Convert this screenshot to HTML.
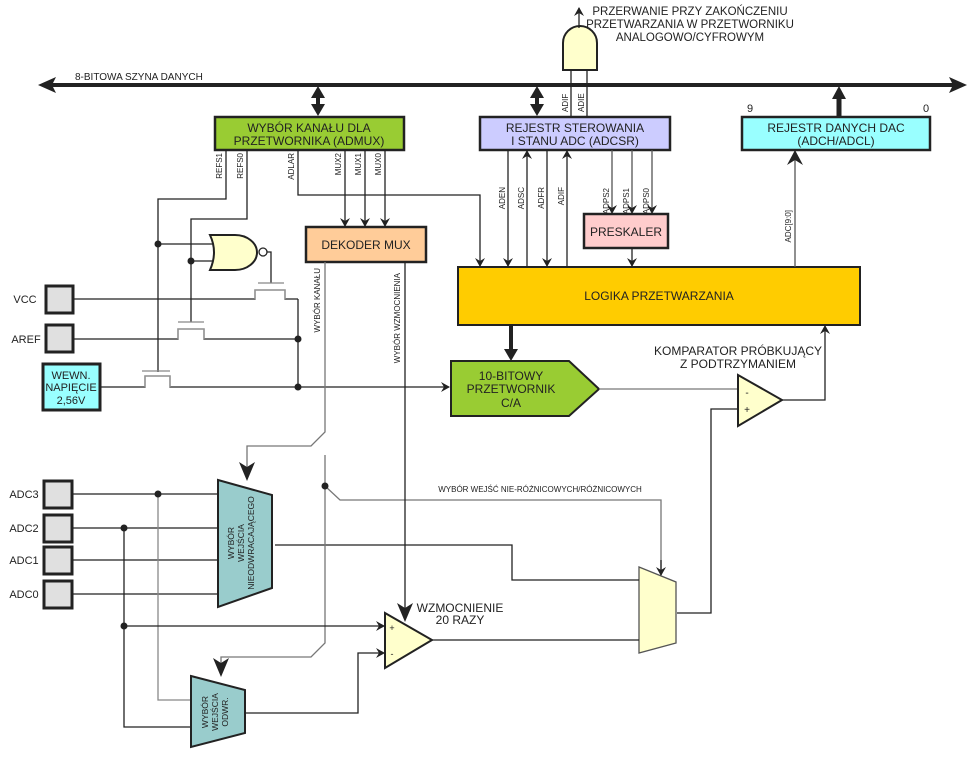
<!DOCTYPE html>
<html><head><meta charset="utf-8"><style>
html,body{margin:0;padding:0;background:#fff}
svg{display:block;font-family:"Liberation Sans",sans-serif}
text{fill:#222}
</style></head><body>
<svg width="971" height="765" viewBox="0 0 971 765" xmlns="http://www.w3.org/2000/svg">
<defs>
<marker id="a" markerWidth="10" markerHeight="10" refX="8" refY="5" orient="auto" markerUnits="userSpaceOnUse"><path d="M0,0 L9,5 L0,10 L3,5z" fill="#222"/></marker>
<marker id="b" markerWidth="16" markerHeight="16" refX="14" refY="8" orient="auto" markerUnits="userSpaceOnUse"><path d="M0,0 L15,8 L0,16 L5,8z" fill="#222"/></marker>
</defs>
<g stroke="#222" fill="none" stroke-width="1.3">
<line x1="50" y1="85" x2="955" y2="85" stroke-width="4"/>
<path d="M38,85 L56,77 L52,85 L56,93z M967,85 L949,77 L953,85 L949,93z" fill="#222" stroke="none"/>
<line x1="318" y1="92" x2="318" y2="110" stroke-width="4"/>
<path d="M318,86 L311,98 L325,98z M318,116 L311,104 L325,104z" fill="#222" stroke="none"/>
<line x1="537" y1="92" x2="537" y2="110" stroke-width="4"/>
<path d="M537,86 L530,98 L544,98z M537,116 L530,104 L544,104z" fill="#222" stroke="none"/>
<line x1="839" y1="117" x2="839" y2="96" stroke-width="5"/>
<path d="M839,86 L832,99 L846,99z" fill="#222" stroke="none"/>
<path d="M563,70 L563,43 A17,17 0 0 1 597,43 L597,70z" fill="#ffffcc" stroke-width="2"/>
<line x1="579" y1="28" x2="579" y2="8" marker-end="url(#a)"/>
<line x1="571" y1="70" x2="571" y2="117"/>
<line x1="587" y1="70" x2="587" y2="117"/>
<rect x="215" y="117" width="189" height="33" fill="#99cc33" stroke-width="2.5"/>
<rect x="480" y="117" width="190" height="33" fill="#ccccff" stroke-width="2.5"/>
<rect x="742" y="117" width="188" height="33" fill="#99ffff" stroke-width="2.5"/>
<rect x="306" y="227" width="120" height="35" fill="#ffcc99" stroke-width="2.5"/>
<rect x="584" y="214" width="84" height="34" fill="#ffcccc" stroke-width="2.5"/>
<rect x="458" y="267" width="402" height="58" fill="#ffcc00" stroke-width="2"/>
<path d="M451,361 L569,361 L599,389 L569,416 L451,416z" fill="#99cc33" stroke-width="2"/>
<path d="M226,150 V199 H158 V372"/>
<path d="M247,150 V219 H191 V322"/>
<path d="M298,150 V195 H480 V266" marker-end="url(#a)"/>
<line x1="345" y1="150" x2="345" y2="226" marker-end="url(#a)"/>
<line x1="365" y1="150" x2="365" y2="226" marker-end="url(#a)"/>
<line x1="385" y1="150" x2="385" y2="226" marker-end="url(#a)"/>
<path d="M158,244 H215 M191,261 H215"/>
<path d="M210,235 L235,235 A22,17.5 0 0 1 235,270 L210,270 Q218,252 210,235z" fill="#ffffcc" stroke-width="2"/>
<circle cx="263" cy="252" r="4" fill="#fff"/>
<path d="M267,252 H271 V283"/>
<path d="M258,283 H284 M178,322 H204 M142,371 H170" stroke="#888"/>
<path d="M73,299 H255 V290 H285 V299 H298" />
<path d="M255,299 V290 H285 V299" stroke="#999"/>
<path d="M73,339 H178 V329 H204 V339 H298"/>
<path d="M178,339 V329 H204 V339" stroke="#999"/>
<path d="M100,387 H145 V376 H170 V387 H449" marker-end="url(#a)"/>
<path d="M145,387 V376 H170 V387" stroke="#999"/>
<line x1="298" y1="299" x2="298" y2="387"/>
<rect x="46" y="286" width="27" height="27" fill="#e0e0e0" stroke-width="3"/>
<rect x="46" y="325" width="27" height="27" fill="#e0e0e0" stroke-width="3"/>
<rect x="43" y="364" width="57" height="46" fill="#99ffff" stroke-width="3"/>
<line x1="508" y1="150" x2="508" y2="266" marker-end="url(#a)"/>
<line x1="527" y1="267" x2="527" y2="151" marker-end="url(#a)"/>
<line x1="547" y1="150" x2="547" y2="266" marker-end="url(#a)"/>
<line x1="567" y1="267" x2="567" y2="151" marker-end="url(#a)"/>
<g stroke="#555"><line x1="612" y1="150" x2="612" y2="213" marker-end="url(#a)"/>
<line x1="632" y1="150" x2="632" y2="213" marker-end="url(#a)"/>
<line x1="652" y1="150" x2="652" y2="213" marker-end="url(#a)"/></g>
<line x1="632" y1="248" x2="632" y2="266" marker-end="url(#a)"/>
<line x1="795" y1="267" x2="795" y2="151" marker-end="url(#b)" stroke="#555"/>
<line x1="511" y1="325" x2="511" y2="352" stroke-width="4"/>
<path d="M511,361 L504,349 L518,349z" fill="#222" stroke="none"/>
<path d="M599,389 H738" stroke="#777"/>
<path d="M738,375 L782,400 L738,426z" fill="#ffffcc" stroke-width="2"/>
<path d="M782,400 H825 V326" marker-end="url(#a)"/>
<path d="M738,409 H711 V613 H677"/>
<path d="M639,567 L676,582 L676,643 L639,653z" fill="#ffffcc" stroke="#555"/>
<path d="M275,545 H512 V580 H639"/>
<path d="M432,640 H639"/>
<path d="M325,486 L340,500 H661 V574" stroke="#777"/>
<line x1="661" y1="560" x2="661" y2="575" marker-end="url(#a)"/>
<path d="M325,262 V432 L311,446 H247 V478" stroke="#777"/>
<path d="M325,455 V643 L311,657 H221 V674" stroke="#777"/>
<path d="M247,481 L239,462 L247,467 L255,462z M221,677 L213,658 L221,663 L229,658z" fill="#222" stroke="none"/>
<path d="M405,262 V612"/>
<path d="M405,622 L397,603 L405,608 L413,603z" fill="#222" stroke="none"/>
<path d="M72,494 H218 M72,528 H218 M72,560 H218 M72,594 H218"/>
<path d="M158,494 V700 H191" stroke="#888"/>
<path d="M124,528 V727 H191"/>
<path d="M124,626 H384" marker-end="url(#a)"/>
<path d="M245,713 H358 V653 H384" marker-end="url(#a)"/>
<rect x="44" y="481" width="28" height="27" fill="#e0e0e0" stroke-width="3"/>
<rect x="44" y="515" width="28" height="27" fill="#e0e0e0" stroke-width="3"/>
<rect x="44" y="547" width="28" height="27" fill="#e0e0e0" stroke-width="3"/>
<rect x="44" y="581" width="28" height="27" fill="#e0e0e0" stroke-width="3"/>
<path d="M218,480 L272,495 L272,588 L218,607z" fill="#99cccc" stroke-width="2"/>
<path d="M191,676 L245,690 L245,733 L191,747z" fill="#99cccc" stroke-width="2"/>
<path d="M385,613 L432,640 L385,668z" fill="#ffffcc" stroke-width="2"/>
</g>
<g fill="#222">
<circle cx="158" cy="244" r="3.5"/><circle cx="191" cy="261" r="3.5"/>
<circle cx="298" cy="339" r="3.5"/><circle cx="298" cy="387" r="3.5"/>
<circle cx="325" cy="486" r="3.5"/>
<circle cx="158" cy="494" r="3.5"/><circle cx="124" cy="528" r="3.5"/><circle cx="124" cy="626" r="3.5"/>
</g>
<g font-size="11" text-anchor="middle">
<text x="75" y="80" text-anchor="start" font-size="10">8-BITOWA SZYNA DANYCH</text>
<text x="690" y="15" font-size="11.5">PRZERWANIE PRZY ZAKOŃCZENIU</text>
<text x="690" y="28" font-size="11.5">PRZETWARZANIA W PRZETWORNIKU</text>
<text x="690" y="41" font-size="11.5">ANALOGOWO/CYFROWYM</text>
<text x="309" y="132" font-size="12">WYBÓR KANAŁU DLA</text>
<text x="309" y="145" font-size="12">PRZETWORNIKA (ADMUX)</text>
<text x="575" y="132" font-size="12">REJESTR STEROWANIA</text>
<text x="575" y="145" font-size="12">I STANU ADC (ADCSR)</text>
<text x="836" y="132" font-size="12">REJESTR DANYCH DAC</text>
<text x="836" y="145" font-size="12">(ADCH/ADCL)</text>
<text x="750" y="112" font-size="11">9</text><text x="926" y="112" font-size="11">0</text>
<text x="366" y="249" font-size="12">DEKODER MUX</text>
<text x="626" y="236" font-size="12">PRESKALER</text>
<text x="659" y="300" font-size="12">LOGIKA PRZETWARZANIA</text>
<text x="511" y="380" font-size="12">10-BITOWY</text>
<text x="511" y="393" font-size="12">PRZETWORNIK</text>
<text x="511" y="407" font-size="12">C/A</text>
<text x="738" y="355" font-size="12">KOMPARATOR PRÓBKUJĄCY</text>
<text x="738" y="368" font-size="12">Z PODTRZYMANIEM</text>
<text x="747" y="396" font-size="10">-</text><text x="747" y="413" font-size="10">+</text>
<text x="71" y="379" font-size="11">WEWN.</text>
<text x="71" y="391" font-size="11">NAPIĘCIE</text>
<text x="71" y="404" font-size="11">2,56V</text>
<text x="25" y="303" font-size="11">VCC</text>
<text x="26" y="343" font-size="11">AREF</text>
<text x="24" y="498" font-size="11">ADC3</text>
<text x="24" y="532" font-size="11">ADC2</text>
<text x="24" y="564" font-size="11">ADC1</text>
<text x="24" y="598" font-size="11">ADC0</text>
<text x="460" y="612" font-size="12">WZMOCNIENIE</text>
<text x="460" y="624" font-size="12">20 RAZY</text>
<text x="392" y="631" font-size="9">+</text><text x="392" y="657" font-size="9">-</text>
<text x="540" y="492" font-size="8">WYBÓR WEJŚĆ NIE-RÓŻNICOWYCH/RÓŻNICOWYCH</text>
</g>
<g font-size="8" text-anchor="end">
<text transform="translate(222,153) rotate(-90)">REFS1</text>
<text transform="translate(243,153) rotate(-90)">REFS0</text>
<text transform="translate(294,153) rotate(-90)">ADLAR</text>
<text transform="translate(341,153) rotate(-90)">MUX2</text>
<text transform="translate(361,153) rotate(-90)">MUX1</text>
<text transform="translate(381,153) rotate(-90)">MUX0</text>
<text transform="translate(568,112) rotate(-90)" text-anchor="start">ADIF</text>
<text transform="translate(584,112) rotate(-90)" text-anchor="start">ADIE</text>
<text transform="translate(505,187) rotate(-90)">ADEN</text>
<text transform="translate(524,187) rotate(-90)">ADSC</text>
<text transform="translate(544,187) rotate(-90)">ADFR</text>
<text transform="translate(564,187) rotate(-90)">ADIF</text>
<text transform="translate(609,188) rotate(-90)">ADPS2</text>
<text transform="translate(629,188) rotate(-90)">ADPS1</text>
<text transform="translate(649,188) rotate(-90)">ADPS0</text>
<text transform="translate(791,210) rotate(-90)">ADC[9:0]</text>
<text transform="translate(320,268) rotate(-90)">WYBÓR KANAŁU</text>
<text transform="translate(400,273) rotate(-90)">WYBÓR WZMOCNIENIA</text>
</g>
<g font-size="8.5" text-anchor="middle">
<text transform="translate(234,543) rotate(-90)">WYBÓR</text>
<text transform="translate(244,543) rotate(-90)">WEJŚCIA</text>
<text transform="translate(254,543) rotate(-90)">NIEODWRACAJĄCEGO</text>
<text transform="translate(208,712) rotate(-90)">WYBÓR</text>
<text transform="translate(218,712) rotate(-90)">WEJŚCIA</text>
<text transform="translate(228,712) rotate(-90)">ODWR.</text>
</g>
</svg>
</body></html>
